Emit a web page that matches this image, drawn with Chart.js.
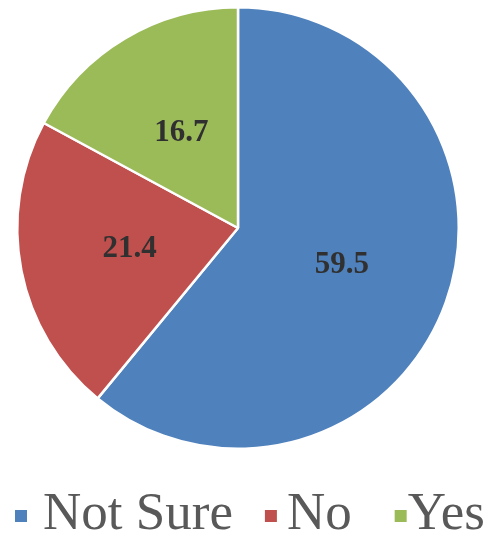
<!DOCTYPE html>
<html>
<head>
<meta charset="utf-8">
<script src="https://cdn.jsdelivr.net/npm/chart.js@4"></script>
<style>
  html, body { margin: 0; padding: 0; background: #fff; }
  #wrap { width: 496px; height: 533px; }
</style>
</head>
<body>
<div id="wrap"><canvas id="myPie"></canvas></div>
<script>
let answers = ['Not Sure', 'No', 'Yes'];
let shares = [59.5, 21.4, 16.7];
let sliceColors = ['#4F81BD', '#C0504D', '#9BBB59'];

// draws the value at the middle of each slice
const sliceLabels = {
    id: 'sliceLabels',
    afterDatasetsDraw(chart) {
        const ctx = chart.ctx;
        const meta = chart.getDatasetMeta(0);
        ctx.save();
        ctx.font = 'bold 31px "Liberation Serif"';
        ctx.fillStyle = '#303030';
        ctx.textAlign = 'center';
        ctx.textBaseline = 'middle';
        meta.data.forEach(function (arc, i) {
            const p = arc.getCenterPoint();
            ctx.fillText(shares[i].toFixed(1), p.x, p.y);
        });
        ctx.restore();
    }
};

// the built-in legend puts too much room between box and text, so draw it here
const bottomLegend = {
    id: 'bottomLegend',
    afterDraw(chart) {
        const ctx = chart.ctx;
        const textOffsets = [28, 22, 13];
        const gaps = [32, 43];
        let x = 15;
        ctx.save();
        ctx.font = '53px "Liberation Serif"';
        ctx.textBaseline = 'alphabetic';
        ctx.textAlign = 'left';
        chart.data.labels.forEach(function (label, i) {
            ctx.fillStyle = sliceColors[i];
            ctx.fillRect(x, 510, 12, 12);
            ctx.fillStyle = '#595959';
            ctx.fillText(label, x + textOffsets[i], 529);
            x += textOffsets[i] + ctx.measureText(label).width + (gaps[i] || 0);
        });
        ctx.restore();
    }
};

const ctx = document.getElementById('myPie').getContext('2d');
let pieChart = new Chart(ctx, {
    type: 'pie',
    data: {
        labels: answers,
        datasets: [
            {
                data: shares,
                backgroundColor: sliceColors,
                borderColor: '#ffffff',
                borderWidth: 2.5,
            }
        ]
    },
    options: {
        responsive: true,
        maintainAspectRatio: false,
        animation: false,
        layout: {
            padding: { top: 6, right: 20, left: 0, bottom: 83 }
        },
        plugins: {
            tooltip: { enabled: false },
            legend: { display: false }
        }
    },
    plugins: [sliceLabels, bottomLegend]
});
</script>
</body>
</html>
